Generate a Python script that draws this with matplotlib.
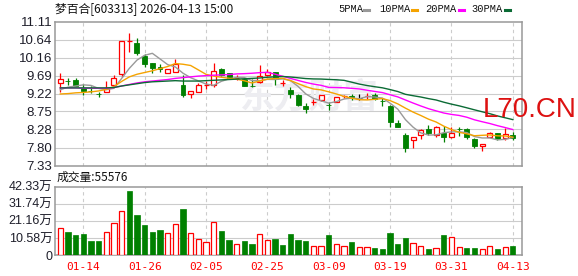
import numpy as np
import pandas as pd
import matplotlib
matplotlib.use("Agg")
import matplotlib.pyplot as plt
from matplotlib.patches import Rectangle
from matplotlib.lines import Line2D

# ---------------- data ----------------
opens  = [9.49, 9.56, 9.58, 9.38, 9.30, 9.22, 9.26, 9.44, 9.73, 10.60,
          10.54, 10.21, 10.03, 9.91, 9.755, 9.80, 9.45, 9.21, 9.27, 9.44,
          9.45, 9.86, 9.755, 9.62, 9.61, 9.43, 9.52, 9.71, 9.78, 9.50,
          9.32, 9.19, 8.90, 9.00, 9.055, 8.92, 9.01, 9.15, 9.15, 9.11,
          9.16, 9.19, 9.03, 8.90, 8.45, 8.13, 7.99, 8.14, 8.30, 8.127,
          8.18, 8.08, 8.29, 8.28, 8.02, 7.83, 8.09, 8.18, 8.05, 8.13]
closes = [9.61, 9.55, 9.43, 9.30, 9.29, 9.21, 9.38, 9.62, 10.595, 10.61,
          10.30, 10.01, 9.88, 9.86, 9.86, 9.99, 9.19, 9.29, 9.44, 9.445,
          9.825, 9.71, 9.62, 9.625, 9.43, 9.42, 9.694, 9.80, 9.606, 9.51,
          9.21, 8.92, 8.82, 9.01, 9.19, 8.91, 9.12, 9.16, 9.14, 9.11,
          9.17, 9.07, 9.02, 8.47, 8.33, 7.79, 8.08, 8.27, 8.18, 8.355,
          8.08, 8.18, 8.28, 8.08, 7.83, 7.90, 8.18, 8.03, 8.15, 8.05]
highs  = [9.77, 9.64, 9.63, 9.47, 9.42, 9.27, 9.55, 9.71, 10.61, 10.80,
          10.67, 10.25, 10.03, 9.99, 9.87, 10.13, 9.71, 9.30, 9.49, 9.56,
          10.03, 9.90, 9.77, 9.71, 9.62, 9.61, 9.97, 9.86, 9.80, 9.58,
          9.405, 9.21, 8.97, 9.07, 9.19, 8.99, 9.13, 9.19, 9.21, 9.21,
          9.23, 9.23, 9.10, 8.92, 8.53, 8.18, 8.08, 8.29, 8.40, 8.37,
          8.37, 8.33, 8.33, 8.31, 8.05, 7.90, 8.20, 8.18, 8.31, 8.20]
lows   = [9.27, 9.44, 9.43, 9.19, 9.23, 9.13, 9.25, 9.44, 9.66, 10.31,
          10.24, 9.93, 9.75, 9.80, 9.75, 9.80, 9.14, 9.116, 9.25, 9.34,
          9.39, 9.67, 9.60, 9.58, 9.42, 9.39, 9.49, 9.69, 9.45, 9.42,
          9.10, 8.90, 8.72, 8.92, 9.03, 8.79, 8.99, 9.10, 9.05, 9.05,
          9.07, 9.05, 8.90, 8.33, 8.33, 7.68, 7.79, 8.03, 8.13, 8.09,
          7.96, 8.05, 8.11, 8.03, 7.79, 7.72, 8.07, 8.00, 7.99, 8.00]
# volume in 万 shares
volumes = [16.5, 14.2, 12.4, 13.0, 8.7, 8.7, 14.0, 19.6, 27.0, 39.6,
           24.8, 18.6, 14.2, 15.5, 13.4, 19.0, 28.5, 13.4, 9.7, 7.8,
           20.2, 14.9, 9.3, 6.8, 8.7, 6.8, 12.8, 9.1, 9.9, 6.2,
           13.0, 9.3, 8.7, 5.4, 5.4, 12.4, 6.8, 5.6, 8.0, 4.7,
           4.7, 4.3, 3.7, 13.6, 6.8, 10.5, 7.2, 5.4, 3.7, 4.1,
           12.4, 10.9, 4.7, 4.3, 4.3, 3.5, 5.4, 3.7, 4.7, 5.5576]
vol_up = [1, 0, 0, 0, 0, 0, 1, 1, 1, 0,
          0, 0, 0, 0, 1, 1, 0, 1, 1, 1,
          1, 0, 0, 1, 0, 0, 1, 1, 0, 0,
          0, 0, 0, 1, 1, 0, 1, 1, 0, 1,
          1, 0, 0, 0, 0, 0, 1, 1, 0, 1,
          0, 1, 1, 0, 0, 1, 1, 0, 1, 0]
# moving-average values before enough in-chart history exists
ma5_lead  = [9.32, 9.39, 9.42, 9.45]
ma10_lead = [9.21, 9.22, 9.24, 9.25, 9.265, 9.29, 9.33, 9.405, 9.54]
ma20_lead = [9.37, 9.37, 9.37, 9.36, 9.36, 9.36, 9.36, 9.38, 9.42, 9.46,
             9.50, 9.53, 9.55, 9.57, 9.59, 9.62, 9.64, 9.66, 9.68]
ma30_lead = [9.37, 9.37, 9.37, 9.37, 9.37, 9.37, 9.37, 9.38, 9.42, 9.45,
             9.48, 9.51, 9.53, 9.54, 9.55, 9.56, 9.55, 9.55, 9.55, 9.56,
             9.57, 9.58, 9.59, 9.60, 9.61, 9.62, 9.63, 9.65, 9.66]

tick_idx = [3, 11, 19, 27, 35, 43, 51, 59]
tick_labels = ["01-14", "01-26", "02-05", "02-25", "03-09", "03-19", "03-31", "04-13"]
price_ticks = [7.33, 7.80, 8.28, 8.75, 9.22, 9.69, 10.16, 10.64, 11.11]
vol_ticks = [0, 10.58, 21.16, 31.74, 42.33]
vol_tick_labels = ["0", "10.58万", "21.16万", "31.74万", "42.33万"]
title = "梦百合[603313] 2026-04-13 15:00"
vol_title = "成交量:55576"
ma_names = ["5PMA", "10PMA", "20PMA", "30PMA"]

# ---------------- styling ----------------
RED = "#ff0000"
GREEN = "#008000"
MA_COLORS = ["#999999", "#f5a300", "#ff00ff", "#0b6b35"]
BORDER = "#999999"
GRID = "#cccccc"

W, H = 578, 276
fig = plt.figure(figsize=(W / 100, H / 100), dpi=100)
fig.patch.set_facecolor("white")

def fx(px):
    return px / W

def fy(py):
    return 1 - py / H

ax = fig.add_axes([fx(55), fy(165.5), fx(522) - fx(55), fy(21.7) - fy(165.5)])
axv = fig.add_axes([fx(55), fy(255), fx(522) - fx(55), fy(186.7) - fy(255)])

n = len(closes)
xs = np.arange(n)
xlim = (-0.69, 60.2)

for a in (ax, axv):
    a.set_xlim(*xlim)
    for s in a.spines.values():
        s.set_color(BORDER)
        s.set_linewidth(1.1)
    a.set_xticks([])
    for t in tick_idx:
        a.axvline(t, color=GRID, lw=0.8, ls=(0, (3, 3)), zorder=0.5)
    a.tick_params(axis="y", length=0, pad=2)

# price axes
ax.set_ylim(price_ticks[0], price_ticks[-1])
ax.set_yticks(price_ticks)
ax.set_yticklabels([f"{v:.2f}" for v in price_ticks], fontsize=9.5,
                   family="Liberation Sans", color="#1e1e2a")
for v in price_ticks[1:-1]:
    ax.axhline(v, color=GRID, lw=0.8, zorder=0.5)

# faint background logo text
ax.text(fx(240), fy(97), "东方财富", transform=fig.transFigure, fontsize=25,
        family=["Noto Sans CJK SC"], fontweight="bold", color="#ededf1",
        ha="left", va="center", zorder=0.6)

bw = 0.65
for i in xs:
    o, c, h, l = opens[i], closes[i], highs[i], lows[i]
    if c > o:
        col = RED
    elif c < o:
        col = GREEN
    else:
        col = "#000000"
    ax.plot([i, i], [l, h], color=col, lw=0.9, zorder=2, solid_capstyle="butt")
    bot, top = min(o, c), max(o, c)
    if c > o:
        ax.add_patch(Rectangle((i - bw / 2, bot), bw, top - bot, facecolor="white",
                               edgecolor=col, lw=0.9, zorder=3))
    else:
        ht = max(top - bot, 0.004)
        ax.add_patch(Rectangle((i - bw / 2, bot), bw, ht, facecolor=col,
                               edgecolor=col, lw=0.6, zorder=3))

cs = pd.Series(closes)
leads = [ma5_lead, ma10_lead, ma20_lead, ma30_lead]
for w, lead, col in zip([5, 10, 20, 30], leads, MA_COLORS):
    ma = cs.rolling(w).mean().to_numpy()
    ma[:w - 1] = lead
    ax.plot(xs, ma, color=col, lw=1.0, zorder=4)

# volume axes
axv.set_ylim(0, vol_ticks[-1])
axv.set_yticks(vol_ticks)
axv.set_yticklabels(vol_tick_labels, fontsize=9,
                    family=["Liberation Sans", "Noto Sans CJK SC"], color="#1e1e2a")
for v in vol_ticks[1:-1]:
    axv.axhline(v, color=GRID, lw=0.8, zorder=0.5)
vw = 0.68
for i in xs:
    if vol_up[i]:
        axv.add_patch(Rectangle((i - vw / 2, 0), vw, volumes[i], facecolor="white",
                                edgecolor=RED, lw=0.9, zorder=3))
    else:
        axv.add_patch(Rectangle((i - vw / 2, 0), vw, volumes[i], facecolor=GREEN,
                                edgecolor=GREEN, lw=0.5, zorder=3))

# date labels
for t, lab in zip(tick_idx, tick_labels):
    axv.text(t, -0.1, lab, transform=axv.get_xaxis_transform(), ha="center",
             va="top", fontsize=8, family="DejaVu Sans Mono", color=RED)

# header texts
fig.text(fx(55), fy(9), title, fontsize=8.5, family=["Noto Sans CJK SC"],
         color="#111111", ha="left", va="center")
fig.text(fx(57), fy(177.7), vol_title, fontsize=8.5, family=["Noto Sans CJK SC"],
         color="#111111", ha="left", va="center")

# MA legend
leg_x = [338, 379.5, 425, 471]
dash_x = [364, 412, 459, 505]
for name, lx, dx, col in zip(ma_names, leg_x, dash_x, MA_COLORS):
    fig.text(fx(lx), fy(9), name, fontsize=7.5, family="Liberation Mono",
             color="#111111", ha="left", va="center")
    fig.add_artist(Line2D([fx(dx), fx(dx + 5)], [fy(9.5), fy(9.5)],
                          transform=fig.transFigure, color=col, lw=2.2))

# red watermark
fig.text(fx(483), fy(116.7), "L70.CN", fontsize=20, family="Liberation Sans",
         color="#dd1111", ha="left", va="baseline", zorder=10)

fig.savefig("out.png", dpi=100, facecolor="white")
